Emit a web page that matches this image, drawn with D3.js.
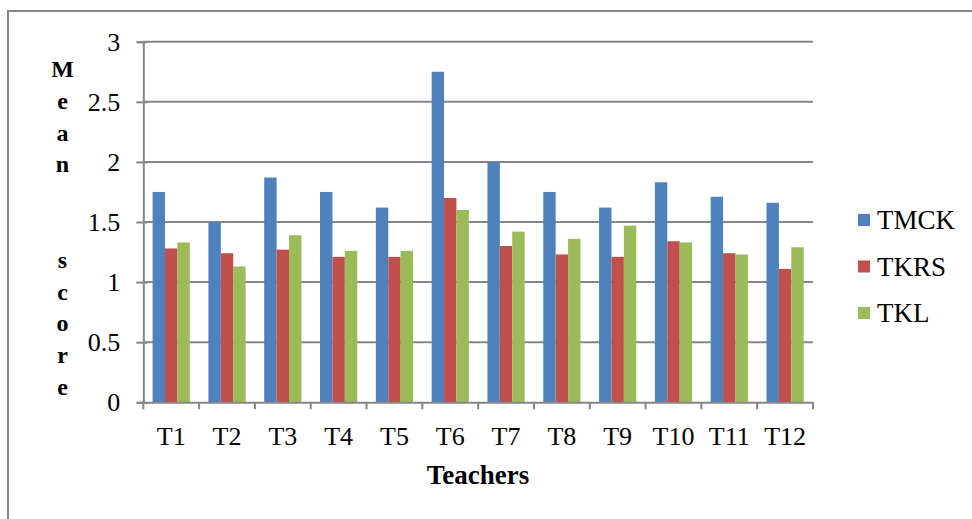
<!DOCTYPE html>
<html>
<head>
<meta charset="utf-8">
<script src="https://cdn.jsdelivr.net/npm/d3@7"></script>
<style>
  body { margin: 0; background: #fff; }
  svg { display: block; font-family: "Liberation Serif", "Times New Roman", serif; }
  svg text { font-family: "Liberation Serif", "Times New Roman", serif; }
</style>
</head>
<body>
<svg id="chart" width="972" height="519"></svg>
<script>
// data
var teachers = ["T1", "T2", "T3", "T4", "T5", "T6", "T7", "T8", "T9", "T10", "T11", "T12"];
var seriesNames = ["TMCK", "TKRS", "TKL"];
var tmck = [1.75, 1.5, 1.87, 1.75, 1.62, 2.75, 2.0, 1.75, 1.62, 1.83, 1.71, 1.66];
var tkrs = [1.28, 1.24, 1.27, 1.21, 1.21, 1.7, 1.3, 1.23, 1.21, 1.34, 1.24, 1.11];
var tkl = [1.33, 1.13, 1.39, 1.26, 1.26, 1.6, 1.42, 1.36, 1.47, 1.33, 1.23, 1.29];
var yTicks = [0, 0.5, 1, 1.5, 2, 2.5, 3];
var yTitle = ["M", "e", "a", "n", "", "", "s", "c", "o", "r", "e"];

var colors = ["#4F81BD", "#C0504D", "#9BBB59"];
var gridColor = "#868686";
var values = [tmck, tkrs, tkl];

var svg = d3.select("#chart");
var plotLeft = 143.3, plotRight = 813, plotTop = 41.7, plotBottom = 402.3;

// chart frame (only top and left are inside the picture)
svg.append("path")
  .attr("d", "M8,519V11H972")
  .attr("fill", "none")
  .attr("stroke", gridColor)
  .attr("stroke-width", 2);

var x = d3.scaleBand().domain(teachers).range([plotLeft, plotRight]).paddingInner(0).paddingOuter(0);
// gap width 150% -> 0.75 bar on each side of the group
var x1 = d3.scaleBand().domain(seriesNames).range([0, x.bandwidth()]).paddingInner(0).paddingOuter(0.75);
var y = d3.scaleLinear().domain([0, 3]).range([plotBottom, plotTop]);

// gridlines
svg.append("g")
  .selectAll("line")
  .data(yTicks.filter(function (d) { return d > 0; }))
  .enter()
  .append("line")
  .attr("x1", plotLeft)
  .attr("x2", plotRight)
  .attr("y1", function (d) { return y(d); })
  .attr("y2", function (d) { return y(d); })
  .attr("stroke", gridColor)
  .attr("stroke-width", 2);

// bars
var groups = svg.append("g")
  .selectAll("g")
  .data(teachers)
  .enter()
  .append("g")
  .attr("transform", function (t) { return "translate(" + x(t) + ",0)"; });

groups.selectAll("rect")
  .data(function (t, i) {
    return seriesNames.map(function (s, j) { return { s: s, v: values[j][i], c: colors[j] }; });
  })
  .enter()
  .append("rect")
  .attr("x", function (d) { return x1(d.s); })
  .attr("width", x1.bandwidth())
  .attr("y", function (d) { return y(d.v); })
  .attr("height", function (d) { return plotBottom - y(d.v); })
  .attr("fill", function (d) { return d.c; });

// y axis
var yAxis = svg.append("g")
  .attr("transform", "translate(" + plotLeft + ",0)")
  .call(d3.axisLeft(y).tickValues(yTicks).tickFormat(d3.format("")).tickSize(6).tickPadding(17));
yAxis.attr("font-family", null);
yAxis.select(".domain").attr("stroke", gridColor).attr("stroke-width", 2);
yAxis.selectAll(".tick line").attr("stroke", gridColor).attr("stroke-width", 2).attr("x2", -7).attr("x1", 4);
yAxis.selectAll(".tick text")
  .attr("fill", "#000")
  .style("font-size", "26px");

// x axis, ticks on the band edges
var xAxis = svg.append("g")
  .attr("transform", "translate(0," + plotBottom + ")")
  .call(d3.axisBottom(x).tickSize(0).tickPadding(24));
xAxis.attr("font-family", null);
xAxis.select(".domain").attr("stroke", gridColor).attr("stroke-width", 2);
xAxis.selectAll(".tick text")
  .attr("fill", "#000")
  .style("font-size", "26px");
xAxis.selectAll(".edge")
  .data(teachers.map(function (t) { return x(t); }).concat([plotRight]))
  .enter()
  .append("line")
  .attr("class", "edge")
  .attr("x1", function (d) { return d; })
  .attr("x2", function (d) { return d; })
  .attr("y1", 0)
  .attr("y2", 7)
  .attr("stroke", gridColor)
  .attr("stroke-width", 2);

// axis titles
svg.append("text")
  .attr("x", 478)
  .attr("y", 484)
  .attr("text-anchor", "middle")
  .style("font-size", "27px")
  .style("font-weight", "bold")
  .text("Teachers");

svg.append("g")
  .selectAll("text")
  .data(yTitle)
  .enter()
  .append("text")
  .attr("x", 62.5)
  .attr("y", function (d, i) { return 77 + i * 31.8; })
  .attr("text-anchor", "middle")
  .style("font-size", "24px")
  .style("font-weight", "bold")
  .text(function (d) { return d; });

// legend
var legend = svg.append("g")
  .selectAll("g")
  .data(seriesNames)
  .enter()
  .append("g")
  .attr("transform", function (d, i) { return "translate(858," + (220 + i * 46.5) + ")"; });
legend.append("rect")
  .attr("x", 0)
  .attr("y", -6)
  .attr("width", 12)
  .attr("height", 12)
  .attr("fill", function (d, i) { return colors[i]; });
legend.append("text")
  .attr("x", 19)
  .attr("y", 9)
  .style("font-size", "27px")
  .text(function (d) { return d; });
</script>
</body>
</html>
